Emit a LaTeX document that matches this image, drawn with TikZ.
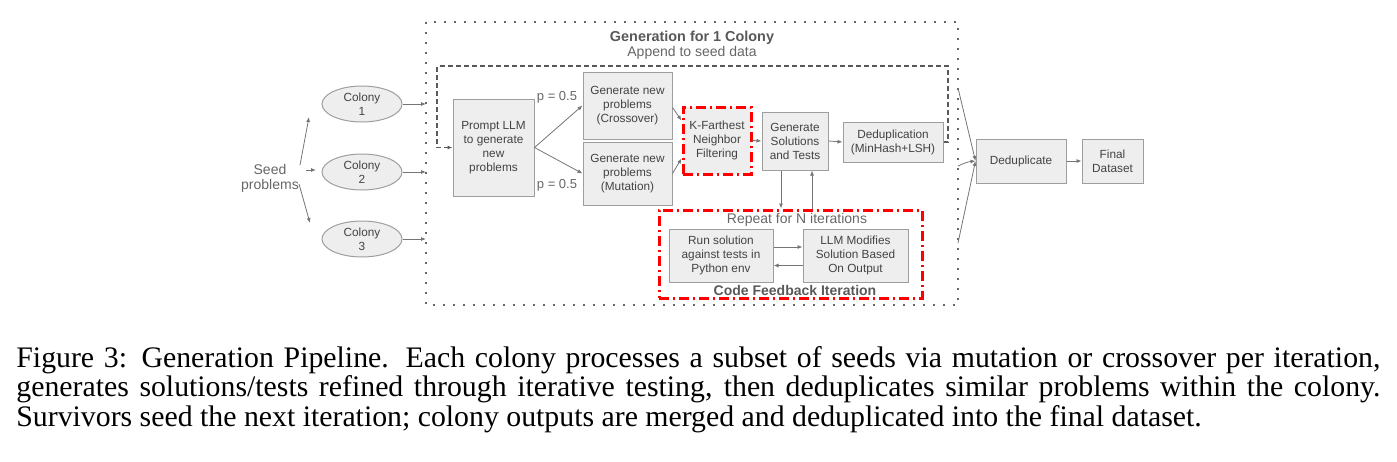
\documentclass[tikz,border=0pt]{standalone}
\usepackage{fontspec}
\setmainfont{Liberation Serif}
\setsansfont{Liberation Sans}
\usetikzlibrary{arrows.meta}
\usetikzlibrary{shapes.geometric}

\definecolor{boxfill}{HTML}{EEEEEE}
\definecolor{boxline}{HTML}{9E9E9E}
\definecolor{txtgray}{HTML}{434343}
\definecolor{arrowgray}{HTML}{757575}

\begin{document}
\begin{tikzpicture}[x=0.5pt, y=-0.5pt,
  font=\sffamily\fontsize{7}{7.5}\selectfont, text=txtgray,
  box/.style={draw=boxline, fill=boxfill, align=center, inner sep=1pt, line width=0.5pt,
              font=\sffamily\fontsize{5.9}{7}\selectfont},
  colony/.style={ellipse, draw=boxline, fill=boxfill, align=center, inner sep=0pt,
                 minimum width=40pt, minimum height=18pt, line width=0.5pt,
                 font=\sffamily\fontsize{5.9}{7}\selectfont},
  arr/.style={draw=arrowgray, line width=0.4pt, -{Latex[length=2.5pt, width=2pt]}},
  redbox/.style={draw=red, line width=1.5pt, dash pattern=on 5pt off 2pt on 1pt off 2pt},
  genline/.style={draw=black!60, line width=1.2pt, dash pattern=on 1.2pt off 3.8pt},
  loopline/.style={draw=black!65, line width=0.6pt, dash pattern=on 2.5pt off 1.5pt,
                   -{Latex[length=2.5pt, width=2pt]}},
  captext/.style={anchor=base west, inner sep=0pt, text=black,
                  font=\rmfamily\fontsize{14.9}{16}\selectfont}]
  \useasboundingbox (0,0) rectangle (1397,461);

  % generation for one colony
  \coordinate (gennw) at (426,22);
  \coordinate (gense) at (958,305);
  \draw [genline] (gennw) rectangle (gense);
  \node [font=\sffamily\bfseries\fontsize{7.2}{8}\selectfont, text=black!65] (gentitle) at (692,38) {Generation for 1 Colony};
  \node [text=black!60] (append) at (692,53) {Append to seed data};

  % seeds and colonies
  \node [align=center, text=black!60] (seed) at (270,178) {Seed\\problems};
  \node [colony] (c1) at (362,104) {Colony\\1};
  \node [colony] (c2) at (362,172) {Colony\\2};
  \node [colony] (c3) at (362,239) {Colony\\3};
  \coordinate (s1) at (309,117);
  \coordinate (s2) at (316,170);
  \coordinate (s3) at (310,223);
  \draw [arr] (300,165) -- (s1);
  \draw [arr] (seed.east |- s2) -- (s2);
  \draw [arr] (299,184) -- (s3);
  \draw [arr] (c1.east) -- (c1.east -| gennw);
  \draw [arr] (c2.east) -- (c2.east -| gennw);
  \draw [arr] (c3.east) -- (c3.east -| gennw);

  % boxes
  \node [box, minimum width=40.5pt, minimum height=48.5pt] (prompt) at (493.5,147.5) {Prompt LLM\\to generate\\new\\problems};
  \node [box, minimum width=44.5pt, minimum height=33.5pt] (cross) at (627.5,105.5) {Generate new\\problems\\(Crossover)};
  \node [box, minimum width=44.5pt, minimum height=31.5pt] (mut) at (627.5,173.5) {Generate new\\problems\\(Mutation)};
  \node [box, redbox, minimum width=34pt, minimum height=33.5pt] (kfn) at (717,140.5) {K-Farthest\\Neighbor\\Filtering};
  \node [box, minimum width=33pt, minimum height=29pt] (gensol) at (795,141) {Generate\\Solutions\\and Tests};
  \node [box, minimum width=50pt, minimum height=20pt] (dedup) at (893,142) {Deduplication\\(MinHash+LSH)};
  \node [box, minimum width=45pt, minimum height=22pt] (dedupall) at (1021,161) {Deduplicate};
  \node [box, minimum width=30.5pt, minimum height=22pt] (final) at (1112.5,161) {Final\\Dataset};

  % code feedback
  \node [redbox, minimum width=131.5pt, minimum height=44pt] (fb) at (790.5,254) {};
  \node [text=black!60] (repeat) at (797,220) {Repeat for N iterations};
  \node [font=\sffamily\bfseries\fontsize{7}{7.5}\selectfont, text=black!65] (fbtitle) at (795,290) {Code Feedback Iteration};
  \node [box, minimum width=52pt, minimum height=26.5pt] (run) at (721,255.5) {Run solution\\against tests in\\Python env};
  \node [box, minimum width=52.5pt, minimum height=26.5pt] (llm) at (855.5,255.5) {LLM Modifies\\Solution Based\\On Output};

  % arrows
  \draw [arr] (prompt.east) -- (cross.west);
  \draw [arr] (prompt.east) -- (mut.west);
  \node [text=black!60, font=\sffamily\fontsize{6.5}{7}\selectfont] (p1) at (557,97) {p = 0.5};
  \node [text=black!60, font=\sffamily\fontsize{6.5}{7}\selectfont] (p2) at (557,185) {p = 0.5};
  \draw [arr] ([yshift=-1pt]cross.east) -- ([yshift=10pt]kfn.west);
  \draw [arr] (mut.east) -- ([yshift=-9pt]kfn.west);
  \draw [arr] (kfn.east) -- (gensol.west);
  \draw [arr] (gensol.east) -- (dedup.west);
  \draw [arr] ([xshift=-7pt]gensol.south) -- ([xshift=-7pt]gensol.south |- fb.north);
  \draw [arr] ([xshift=8.5pt]gensol.south |- fb.north) -- ([xshift=8.5pt]gensol.south);
  \draw [arr] ([yshift=4.25pt]run.east) -- ([yshift=4.25pt]llm.west);
  \draw [arr] ([yshift=-5pt]llm.west) -- ([yshift=-5pt]run.east);
  \coordinate (ll) at (437,66);
  \coordinate (lr) at (948,66);
  \draw [loopline] (dedup.east) -| (lr) -- (ll) |- (prompt.west);  % append to seed data

  % colony outputs
  \coordinate (o1) at (958,88);
  \coordinate (o2) at (958,166);
  \coordinate (o3) at (958,243);
  \draw [arr] (o1) -- (dedupall.west);
  \draw [arr] (o2) to [bend left=10] (dedupall.west);
  \draw [arr] (o3) -- (dedupall.west);
  \draw [arr] (dedupall.east) -- (final.west);

  % caption
  \node [captext] (cap1) at (16,367) {\makebox[682pt][s]{Figure 3: Generation Pipeline. Each colony processes a subset of seeds via mutation or crossover per iteration,}};
  \node [captext] (cap2) at (16,396.5) {\makebox[682pt][s]{generates solutions/tests refined through iterative testing, then deduplicates similar problems within the colony.}};
  \node [captext] (cap3) at (16,426) {Survivors seed the next iteration; colony outputs are merged and deduplicated into the final dataset.};
\end{tikzpicture}
\end{document}
